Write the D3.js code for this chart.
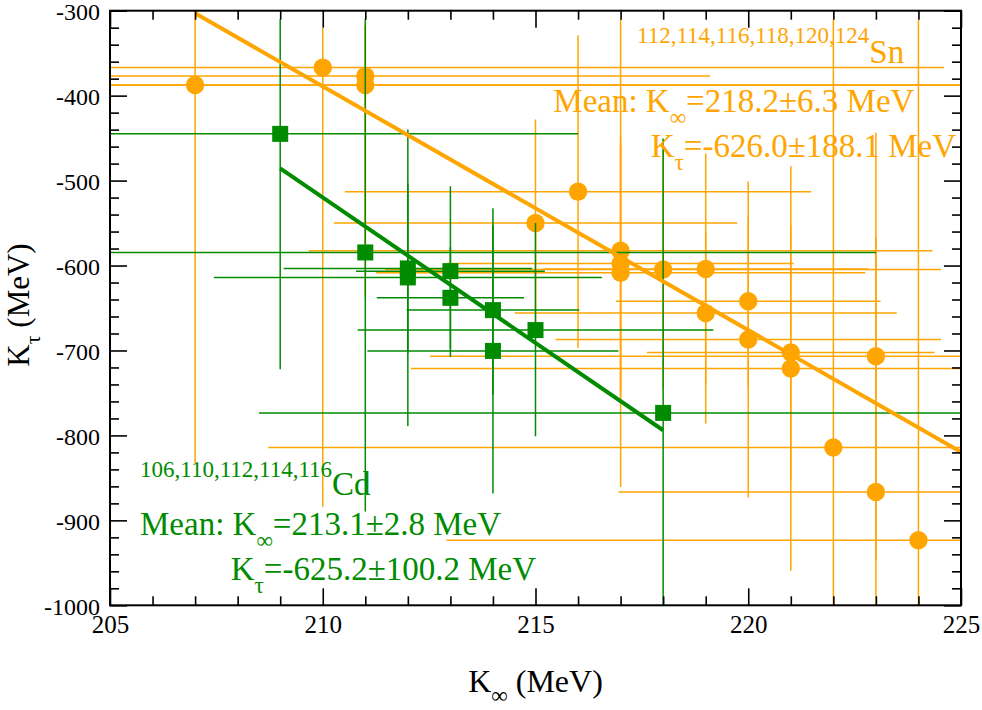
<!DOCTYPE html>
<html><head><meta charset="utf-8">
<script src="https://cdn.jsdelivr.net/npm/d3@7/dist/d3.min.js"></script>
<style>body{margin:0;background:#fff}svg{display:block}</style>
</head><body><svg id="c" width="982" height="710"></svg>
<script>
// ---- Sn data (orange circles) ----
const snK   = [207, 210, 211, 211, 215, 216, 217, 217, 217, 218, 219, 219, 220, 220, 221, 221, 222, 223, 223, 224];
const snKt  = [-387.5, -367, -377, -387.5, -550, -513, -582.6, -597.6, -608.6, -604.6, -604, -656, -642, -687, -702.4, -721.2, -814.3, -706.7, -866.5, -923.4];
const snKErr  = [20, 14.6, 8.1, 15, 4.74, 5.48, 7.33, 4.07, 5.75, 6.53, 3.82, 4.49, 3.11, 4.53, 3.38, 8.93, 13.28, 10.48, 6.05, 11.09];
const snKtUp  = [445, 47, 60, 70, 122, 184, 273, 150, 150, 140, 136, 96, 100, 186, 150, 238, 504, 263, 300, 613];
const snKtDn  = [445, 517, 200, 250, 122, 184, 278, 150, 150, 140, 136, 130, 100, 186, 150, 238, 504, 240, 300, 613];
const snFitK  = [207, 225];
const snFitKt = [-303, -819.5];

// ---- Cd data (green squares) ----
const cdK   = [209, 211, 212, 212, 213, 213, 214, 214, 215, 218];
const cdKt  = [-445, -584.6, -603.4, -614, -606.6, -638, -652.5, -700.5, -676, -773.5];
const cdKErr = [7, 12, 2.92, 4.56, 2.22, 1.73, 2.03, 2.95, 4.18, 9.5];
const cdKtUp = [135, 275, 100, 174, 100, 60, 100, 168, 126, 323];
const cdKtDn = [277, 305, 100, 175, 101, 60, 100, 168, 125, 316];
const cdFitK  = [209, 218];
const cdFitKt = [-485.6, -793.9];

// ---- axes ----
const xMajor = [205, 210, 215, 220, 225];
const yMajor = [-300, -400, -500, -600, -700, -800, -900, -1000];
const xTitle = ["K", "∞", " (MeV)"];
const yTitle = ["K", "τ", " (MeV)"];

// ---- annotation texts ----
const snIso = "112,114,116,118,120,124", snEl = "Sn";
const snMean = ["Mean: K", "∞", "=218.2±6.3 MeV"];
const snTau  = ["K", "τ", "=-626.0±188.1 MeV"];
const cdIso = "106,110,112,114,116", cdEl = "Cd";
const cdMean = ["Mean: K", "∞", "=213.1±2.8 MeV"];
const cdTau  = ["K", "τ", "=-625.2±100.2 MeV"];

const ORANGE = "#ffa500", GREEN = "#008b00";
const FONT = "'Liberation Serif','Times New Roman',Times,serif";

const L = 110, R = 961, T = 10.7, B = 605.3;
const x = d3.scaleLinear().domain([205, 225]).range([L, R]);
const y = d3.scaleLinear().domain([-300, -1000]).range([T, B]);

const svg = d3.select('#c');
svg.append('rect').attr('width', 982).attr('height', 710).attr('fill', '#fff');
svg.append('defs').append('clipPath').attr('id', 'clip')
  .append('rect').attr('x', L).attr('y', T).attr('width', R - L).attr('height', B - T);
const plot = svg.append('g').attr('clip-path', 'url(#clip)');

function drawSeries(X, Y, XE, YU, YD, color, shape) {
  const data = X.map((v, i) => ({ x: v, y: Y[i], xe: XE[i], yu: YU[i], yd: YD[i] }));
  const g = plot.append('g');
  g.selectAll(null).data(data).enter().append('line')
    .attr('x1', d => x(d.x - d.xe)).attr('x2', d => x(d.x + d.xe))
    .attr('y1', d => y(d.y)).attr('y2', d => y(d.y))
    .attr('stroke', color).attr('stroke-width', 1.5);
  g.selectAll(null).data(data).enter().append('line')
    .attr('x1', d => x(d.x)).attr('x2', d => x(d.x))
    .attr('y1', d => y(d.y + d.yu)).attr('y2', d => y(d.y - d.yd))
    .attr('stroke', color).attr('stroke-width', 1.5);
  if (shape === 'circle') {
    g.selectAll(null).data(data).enter().append('circle')
      .attr('cx', d => x(d.x)).attr('cy', d => y(d.y)).attr('r', 9.2).attr('fill', color);
  } else {
    const s = 16;
    g.selectAll(null).data(data).enter().append('rect')
      .attr('x', d => x(d.x) - s / 2).attr('y', d => y(d.y) - s / 2)
      .attr('width', s).attr('height', s).attr('fill', color);
  }
}
drawSeries(snK, snKt, snKErr, snKtUp, snKtDn, ORANGE, 'circle');
drawSeries(cdK, cdKt, cdKErr, cdKtUp, cdKtDn, GREEN, 'square');

const line = d3.line().x(d => x(d[0])).y(d => y(d[1]));
plot.append('path').datum(snFitK.map((v, i) => [v, snFitKt[i]]))
  .attr('d', line).attr('stroke', ORANGE).attr('stroke-width', 4).attr('fill', 'none');
plot.append('path').datum(cdFitK.map((v, i) => [v, cdFitKt[i]]))
  .attr('d', line).attr('stroke', GREEN).attr('stroke-width', 4).attr('fill', 'none');

// rich text helper
function rich(px, py, parts, color, size, subSize, subDy) {
  const t = svg.append('text').attr('x', px).attr('y', py)
    .attr('fill', color).attr('font-family', FONT).attr('font-size', size)
    .style('white-space', 'pre');
  let shift = 0;
  parts.forEach(p => {
    const ts = t.append('tspan').text(p.t);
    let target = 0;
    if (p.k === 'sub') target = subDy;
    if (p.k === 'sup') target = -subDy;
    if (p.k !== 'n') ts.attr('font-size', subSize);
    ts.attr('dy', target - shift);
    shift = target;
  });
  return t;
}
const N = s => ({ t: s, k: 'n' }), SUB = s => ({ t: s, k: 'sub' }), SUP = s => ({ t: s, k: 'sup' });

rich(637, 62.7, [SUP(snIso), N(snEl)], ORANGE, 33, 23, 19.4);
rich(553.3, 111.7, [N(snMean[0]), SUB(snMean[1]), N(snMean[2])], ORANGE, 33, 23, 13);
rich(650.7, 156.7, [N(snTau[0]), SUB(snTau[1]), N(snTau[2])], ORANGE, 33, 23, 13);
rich(140, 495, [SUP(cdIso), N(cdEl)], GREEN, 33, 23, 18.3);
rich(140, 535, [N(cdMean[0]), SUB(cdMean[1]), N(cdMean[2])], GREEN, 33, 23, 13);
rich(230.7, 580, [N(cdTau[0]), SUB(cdTau[1]), N(cdTau[2])], GREEN, 33, 23, 13);

// axes
const fmt = d => String(d);
const xMinor = d3.range(205, 226, 1).filter(v => !xMajor.includes(v));
const yMinor = d3.range(-300, -1001, -20).filter(v => !yMajor.includes(v));

function styleAxis(g) {
  g.select('.domain').remove();
  g.selectAll('.tick line').attr('stroke', '#000').attr('stroke-width', 1.6);
  g.selectAll('text').attr('font-family', FONT).attr('fill', '#000');
}
svg.append('g').attr('transform', `translate(0,${B})`)
  .call(d3.axisBottom(x).tickValues(xMajor).tickFormat(fmt).tickSizeInner(-17).tickSizeOuter(0).tickPadding(10))
  .call(styleAxis).call(g => g.selectAll('text').attr('font-size', 25).attr('dy', '0.71em'));
svg.append('g').attr('transform', `translate(0,${B})`)
  .call(d3.axisBottom(x).tickValues(xMinor).tickFormat('').tickSizeInner(-9).tickSizeOuter(0))
  .call(styleAxis);
svg.append('g').attr('transform', `translate(0,${T})`)
  .call(d3.axisTop(x).tickValues(xMajor).tickFormat('').tickSizeInner(-17).tickSizeOuter(0))
  .call(styleAxis);
svg.append('g').attr('transform', `translate(0,${T})`)
  .call(d3.axisTop(x).tickValues(xMinor).tickFormat('').tickSizeInner(-9).tickSizeOuter(0))
  .call(styleAxis);
svg.append('g').attr('transform', `translate(${L},0)`)
  .call(d3.axisLeft(y).tickValues(yMajor).tickFormat(fmt).tickSizeInner(-17).tickSizeOuter(0).tickPadding(10))
  .call(styleAxis).call(g => g.selectAll('text').attr('font-size', 24).attr('dy', '0.37em'));
svg.append('g').attr('transform', `translate(${L},0)`)
  .call(d3.axisLeft(y).tickValues(yMinor).tickFormat('').tickSizeInner(-9).tickSizeOuter(0))
  .call(styleAxis);
svg.append('g').attr('transform', `translate(${R},0)`)
  .call(d3.axisRight(y).tickValues(yMajor).tickFormat('').tickSizeInner(-17).tickSizeOuter(0))
  .call(styleAxis);
svg.append('g').attr('transform', `translate(${R},0)`)
  .call(d3.axisRight(y).tickValues(yMinor).tickFormat('').tickSizeInner(-9).tickSizeOuter(0))
  .call(styleAxis);

svg.append('rect').attr('x', L).attr('y', T).attr('width', R - L).attr('height', B - T)
  .attr('fill', 'none').attr('stroke', '#000').attr('stroke-width', 2);

// axis titles
const xt = rich((L + R) / 2, 692, [N(xTitle[0]), SUB(xTitle[1]), N(xTitle[2])], '#000', 32, 23, 11);
xt.attr('text-anchor', 'middle');
const yt = rich(0, 0, [N(yTitle[0]), SUB(yTitle[1]), N(yTitle[2])], '#000', 31, 22, 11);
yt.attr('text-anchor', 'middle').attr('transform', 'translate(29,305) rotate(-90)');
</script>
</body></html>
